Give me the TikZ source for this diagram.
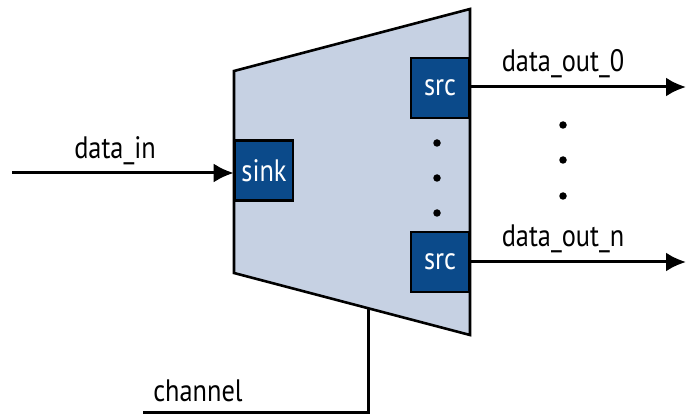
\documentclass[tikz,border=0pt]{standalone}
\usepackage{fontspec}
\setmainfont[FakeStretch=0.85]{PT Sans}
\usetikzlibrary{arrows.meta}
\definecolor{muxfill}{HTML}{C6D1E3}
\definecolor{portblue}{HTML}{0B4A8A}
\begin{document}
\begin{tikzpicture}[x=1pt, y=-1pt, font=\fontsize{31}{34}\selectfont,
  port/.style={draw, line width=2.6pt, fill=portblue, text=white, minimum width=58pt, minimum height=60pt, inner sep=0pt},
  wire/.style={line width=3pt},
  arr/.style={wire, -{Latex[length=20pt, width=19pt]}},
  dot/.style={circle, fill=black, inner sep=0pt, minimum size=7.5pt}]
\useasboundingbox (0,0) rectangle (686,414);
% mux body
\draw[line width=2.6pt, fill=muxfill, line join=miter] (234,71) -- (470,9) -- (470,335) -- (234,273) -- cycle;
\node[port] (sink) at (264,170.5) {sink};
\node[port] (src0) at (440,88) {src};
\node[port] (srcn) at (440,262) {src};
\foreach \y/\n in {143/a, 178/b, 213/c} { \node[dot] (in\n) at (437,\y) {}; }
\foreach \y/\n in {125/a, 160/b, 196/c} { \node[dot] (out\n) at (563,\y) {}; }
% wires
\coordinate (din) at (12,173);
\coordinate (d0) at (686,87);
\coordinate (dn) at (686,262);
\coordinate (ch) at (368,308);
\coordinate (chend) at (143,412);
\draw[arr] (din) -- (sink.west |- din);
\draw[arr] (src0.east |- d0) -- (d0);
\draw[arr] (srcn.east) -- (dn);
\draw[wire] (ch) |- (chend);
\node (lin) at (115,151) {data\_in};
\node (l0) at (563,64) {data\_out\_0};
\node (ln) at (563,239) {data\_out\_n};
\node (lch) at (198,391) {channel};
\end{tikzpicture}
\end{document}
